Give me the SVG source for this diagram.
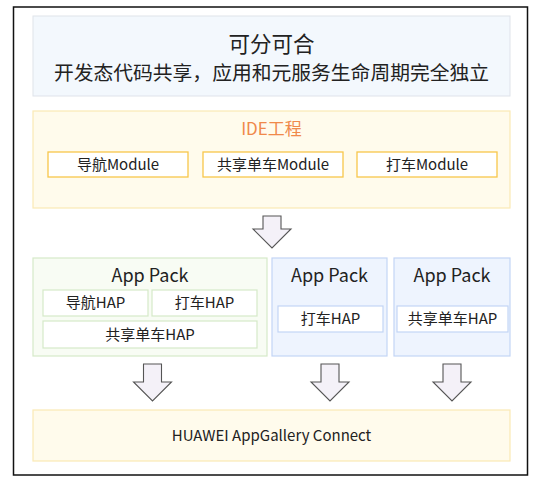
<svg xmlns="http://www.w3.org/2000/svg" width="536" height="484" viewBox="0 0 536 484">
<defs>
<style>
text{font-family:"Noto Sans CJK SC","Noto Sans",sans-serif;text-anchor:middle;fill:#222;}
.frame{fill:#fff;stroke:#111;stroke-width:1.5;}
.top{fill:#f3f8fd;stroke:#dfe3ea;stroke-width:1;}
.yel{fill:#fffbec;stroke:#fbe9b5;stroke-width:1.2;}
.mod{fill:#fff;stroke:#f7c64a;stroke-width:1.3;}
.gpack{fill:#f8fcf4;stroke:#d6e9c8;stroke-width:1.2;}
.ghap{fill:#fff;stroke:#d6e9c8;stroke-width:1.2;}
.bpack{fill:#eef4fe;stroke:#c3d5f5;stroke-width:1.2;}
.bhap{fill:#fff;stroke:#c3d5f5;stroke-width:1.2;}
.arr{fill:#f4f1f8;stroke:#555;stroke-width:1.1;stroke-linejoin:miter;}
.t15{font-size:15px;}
.t18{font-size:18px;}
</style>
</defs>
<rect class="frame" x="13.5" y="7" width="514" height="468"/>
<g id="header">
<rect class="top" x="33" y="16" width="477" height="80"/>
<text x="271.5" y="52" font-size="21.5">可分可合</text>
<text x="271.5" y="80" font-size="19.8">开发态代码共享，应用和元服务生命周期完全独立</text>
</g>
<g id="ide">
<rect class="yel" x="33" y="111" width="477" height="97"/>
<text x="271.5" y="135" font-size="17" style="fill:#f0894a">IDE工程</text>
</g>
<g id="mod-nav">
<rect class="mod" x="48" y="152" width="140" height="25"/>
<text class="t15" x="118" y="170">导航Module</text>
</g>
<g id="mod-share">
<rect class="mod" x="203" y="152" width="140" height="25"/>
<text class="t15" x="273" y="170">共享单车Module</text>
</g>
<g id="mod-taxi">
<rect class="mod" x="357" y="152" width="140" height="25"/>
<text class="t15" x="427" y="170">打车Module</text>
</g>
<g id="pack1">
<rect class="gpack" x="33" y="258" width="234" height="98"/>
<text class="t18" x="150" y="282">App Pack</text>
<rect class="ghap" x="43" y="290" width="105" height="26"/>
<text class="t15" x="95.5" y="308">导航HAP</text>
<rect class="ghap" x="152" y="290" width="105" height="26"/>
<text class="t15" x="204.5" y="308">打车HAP</text>
<rect class="ghap" x="43" y="321" width="214" height="27"/>
<text class="t15" x="150" y="340">共享单车HAP</text>
</g>
<g id="pack2">
<rect class="bpack" x="272" y="258" width="115" height="98"/>
<text class="t18" x="329.5" y="282">App Pack</text>
<rect class="bhap" x="278" y="306" width="105" height="26"/>
<text class="t15" x="330.5" y="324">打车HAP</text>
</g>
<g id="pack3">
<rect class="bpack" x="394" y="258" width="116" height="98"/>
<text class="t18" x="452" y="282">App Pack</text>
<rect class="bhap" x="397" y="306" width="111" height="26"/>
<text class="t15" x="452.5" y="324">共享单车HAP</text>
</g>
<g id="agc">
<rect class="yel" x="33" y="410" width="477" height="51"/>
<text class="t15" x="271.5" y="441">HUAWEI AppGallery Connect</text>
</g>
<g id="connectors">
<path class="arr" d="M263,216 H281 V229 H291 L272,248 L253,229 H263 Z"/>
<path class="arr" d="M143.5,364 H161.5 V382 H171.5 L152.5,401 L133.5,382 H143.5 Z"/>
<path class="arr" d="M321,364 H339 V382 H349 L330,401 L311,382 H321 Z"/>
<path class="arr" d="M443,364 H461 V382 H471 L452,401 L433,382 H443 Z"/>
</g>
</svg>
